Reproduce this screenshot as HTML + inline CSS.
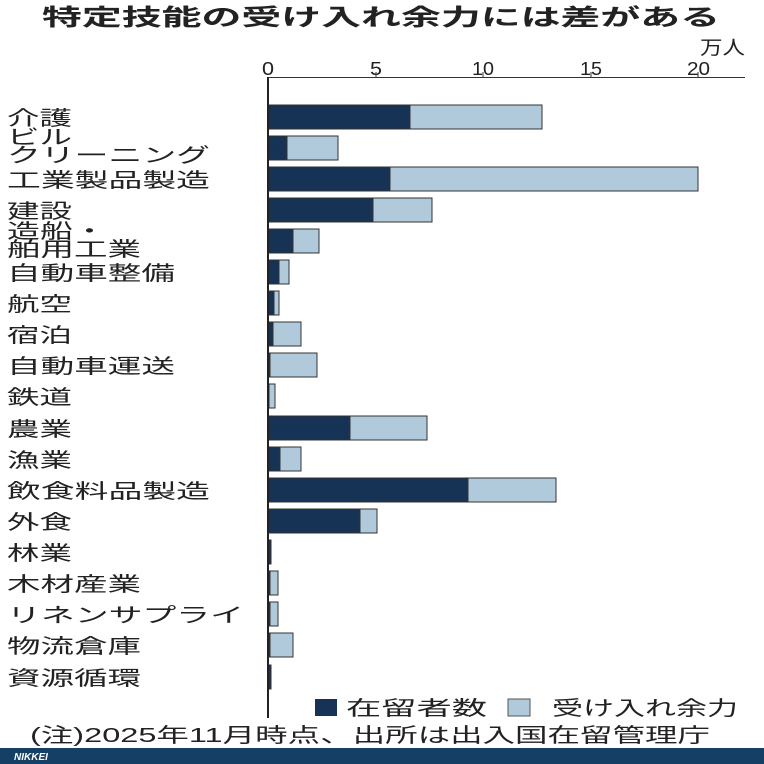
<!DOCTYPE html>
<html><head><meta charset="utf-8"><style>
body{margin:0;background:#fff;}
svg{display:block;font-family:"Liberation Sans","Noto Sans CJK JP",sans-serif;}
</style></head><body>
<svg width="764" height="764" viewBox="0 0 764 764" xmlns="http://www.w3.org/2000/svg">
<rect width="764" height="764" fill="#fff"/>
<text x="42" y="25" font-size="23" font-weight="bold" fill="#222" textLength="678" lengthAdjust="spacingAndGlyphs">特定技能の受け入れ余力には差がある</text>
<text x="700" y="54" font-size="19" fill="#222" textLength="45" lengthAdjust="spacingAndGlyphs">万人</text>
<g font-size="18" fill="#222">
<text x="262" y="75" textLength="12" lengthAdjust="spacingAndGlyphs">0</text>
<text x="370" y="75" textLength="12" lengthAdjust="spacingAndGlyphs">5</text>
<text x="472" y="75" textLength="22" lengthAdjust="spacingAndGlyphs">10</text>
<text x="580" y="75" textLength="22" lengthAdjust="spacingAndGlyphs">15</text>
<text x="687" y="75" textLength="23" lengthAdjust="spacingAndGlyphs">20</text>
</g>
<line x1="268" y1="77.5" x2="745" y2="77.5" stroke="#333" stroke-width="1"/>
<g stroke="#333" stroke-width="1">
<line x1="376" y1="72" x2="376" y2="77"/><line x1="483" y1="72" x2="483" y2="77"/><line x1="591" y1="72" x2="591" y2="77"/><line x1="698" y1="72" x2="698" y2="77"/>
</g>
<g stroke="#333" stroke-width="1">
<rect x="268" y="105" width="274" height="24" fill="#b0cadc"/><rect x="268" y="105" width="142" height="24" fill="#163255"/>
<rect x="268" y="136" width="70" height="24" fill="#b0cadc"/><rect x="268" y="136" width="19" height="24" fill="#163255"/>
<rect x="268" y="167" width="430" height="24" fill="#b0cadc"/><rect x="268" y="167" width="122" height="24" fill="#163255"/>
<rect x="268" y="198" width="164" height="24" fill="#b0cadc"/><rect x="268" y="198" width="105" height="24" fill="#163255"/>
<rect x="268" y="229" width="51" height="24" fill="#b0cadc"/><rect x="268" y="229" width="25" height="24" fill="#163255"/>
<rect x="268" y="260" width="21" height="24" fill="#b0cadc"/><rect x="268" y="260" width="11" height="24" fill="#163255"/>
<rect x="268" y="291" width="11" height="24" fill="#b0cadc"/><rect x="268" y="291" width="6" height="24" fill="#163255"/>
<rect x="268" y="322" width="33" height="24" fill="#b0cadc"/><rect x="268" y="322" width="5" height="24" fill="#163255"/>
<rect x="268" y="353" width="49" height="24" fill="#b0cadc"/><rect x="268" y="353" width="2" height="24" fill="#163255"/>
<rect x="268" y="384" width="7" height="24" fill="#b0cadc"/><rect x="268" y="384" width="1" height="24" fill="#163255"/>
<rect x="268" y="416" width="159" height="24" fill="#b0cadc"/><rect x="268" y="416" width="82" height="24" fill="#163255"/>
<rect x="268" y="447" width="33" height="24" fill="#b0cadc"/><rect x="268" y="447" width="12" height="24" fill="#163255"/>
<rect x="268" y="478" width="288" height="24" fill="#b0cadc"/><rect x="268" y="478" width="200" height="24" fill="#163255"/>
<rect x="268" y="509" width="109" height="24" fill="#b0cadc"/><rect x="268" y="509" width="92" height="24" fill="#163255"/>
<rect x="268" y="540" width="3" height="24" fill="#163255"/>
<rect x="268" y="571" width="10" height="24" fill="#b0cadc"/><rect x="268" y="571" width="2" height="24" fill="#163255"/>
<rect x="268" y="602" width="10" height="24" fill="#b0cadc"/><rect x="268" y="602" width="2" height="24" fill="#163255"/>
<rect x="268" y="633" width="25" height="24" fill="#b0cadc"/><rect x="268" y="633" width="2" height="24" fill="#163255"/>
<rect x="268" y="665" width="3" height="24" fill="#163255"/>
</g>
<line x1="268" y1="77" x2="268" y2="718" stroke="#222" stroke-width="2"/>
<g font-size="20" fill="#222">
<text x="7" y="125" textLength="65" lengthAdjust="spacingAndGlyphs">介護</text>
<text x="7" y="144" textLength="65" lengthAdjust="spacingAndGlyphs">ビル</text>
<text x="7" y="162" textLength="203" lengthAdjust="spacingAndGlyphs">クリーニング</text>
<text x="7" y="187" textLength="203" lengthAdjust="spacingAndGlyphs">工業製品製造</text>
<text x="7" y="218" textLength="65" lengthAdjust="spacingAndGlyphs">建設</text>
<text x="7" y="238" textLength="99" lengthAdjust="spacingAndGlyphs">造船・</text>
<text x="7" y="256" textLength="134" lengthAdjust="spacingAndGlyphs">舶用工業</text>
<text x="7" y="280" textLength="168" lengthAdjust="spacingAndGlyphs">自動車整備</text>
<text x="7" y="311" textLength="65" lengthAdjust="spacingAndGlyphs">航空</text>
<text x="7" y="342" textLength="65" lengthAdjust="spacingAndGlyphs">宿泊</text>
<text x="7" y="373" textLength="168" lengthAdjust="spacingAndGlyphs">自動車運送</text>
<text x="7" y="404" textLength="65" lengthAdjust="spacingAndGlyphs">鉄道</text>
<text x="7" y="436" textLength="65" lengthAdjust="spacingAndGlyphs">農業</text>
<text x="7" y="467" textLength="65" lengthAdjust="spacingAndGlyphs">漁業</text>
<text x="7" y="498" textLength="203" lengthAdjust="spacingAndGlyphs">飲食料品製造</text>
<text x="7" y="529" textLength="65" lengthAdjust="spacingAndGlyphs">外食</text>
<text x="7" y="560" textLength="65" lengthAdjust="spacingAndGlyphs">林業</text>
<text x="7" y="591" textLength="134" lengthAdjust="spacingAndGlyphs">木材産業</text>
<text x="7" y="622" textLength="237" lengthAdjust="spacingAndGlyphs">リネンサプライ</text>
<text x="7" y="653" textLength="134" lengthAdjust="spacingAndGlyphs">物流倉庫</text>
<text x="7" y="685" textLength="134" lengthAdjust="spacingAndGlyphs">資源循環</text>
</g>
<rect x="315" y="699" width="22" height="17" fill="#163255"/>
<text x="346" y="715" font-size="20" fill="#222" textLength="141" lengthAdjust="spacingAndGlyphs">在留者数</text>
<rect x="508" y="699" width="22" height="17" fill="#b0cadc" stroke="#555" stroke-width="1"/>
<text x="552" y="715" font-size="20" fill="#222" textLength="186" lengthAdjust="spacingAndGlyphs">受け入れ余力</text>
<text x="30" y="742" font-size="20" fill="#222" textLength="680" lengthAdjust="spacingAndGlyphs">(注)2025年11月時点、出所は出入国在留管理庁</text>
<rect x="0" y="748" width="764" height="16" fill="#163f66"/>
<text x="14" y="760" font-size="10" font-weight="bold" font-style="italic" fill="#fff">NIKKEI</text>
</svg>
</body></html>
